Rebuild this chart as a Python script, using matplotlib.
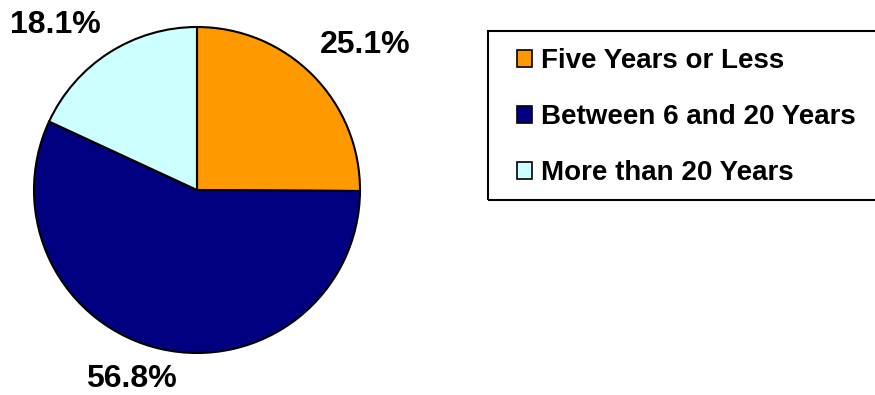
import matplotlib

matplotlib.use("Agg")

import matplotlib.pyplot as plt
from matplotlib.patches import Patch, Rectangle

CATEGORIES = ["Five Years or Less", "Between 6 and 20 Years", "More than 20 Years"]
SHARES = [25.1, 56.8, 18.1]
COLORS = ["#FF9900", "#000080", "#CCFFFF"]
# label offsets in units of pie radius (dx, dy)
LABEL_POS = [(1.03, 0.89), (-0.40, -1.16), (-0.87, 1.01)]

W, H = 875, 395
plt.rcParams["font.family"] = ["Liberation Sans", "DejaVu Sans"]
plt.rcParams["font.weight"] = "bold"

fig = plt.figure(figsize=(W / 100, H / 100), dpi=100)

cx, cy, r = 197, 190, 163
ax = fig.add_axes([(cx - r) / W, (H - cy - r) / H, 2 * r / W, 2 * r / H])
ax.pie(SHARES, colors=COLORS, startangle=90, counterclock=False, radius=1,
       wedgeprops=dict(edgecolor="black", linewidth=1.5))
ax.set_xlim(-1, 1)
ax.set_ylim(-1, 1)
ax.set_aspect("equal")
for p in ax.patches:
    p.set_clip_on(False)

for share, (dx, dy) in zip(SHARES, LABEL_POS):
    ax.text(dx, dy, f"{share:.1f}%", ha="center", va="center", fontsize=23,
            fontweight="bold", clip_on=False)

# legend frame
fig.patches.append(Rectangle((488 / W, 1 - 200 / H), 390 / W, 169 / H,
                             transform=fig.transFigure, facecolor="none",
                             edgecolor="black", linewidth=1.5))

handles = [Patch(facecolor=c, edgecolor="black", linewidth=1.2) for c in COLORS]
leg = fig.legend(handles, CATEGORIES, loc="upper left",
                 bbox_to_anchor=(517 / W, 1 - 48 / H), frameon=False,
                 prop=dict(weight="bold", size=20),
                 handlelength=0.55, handleheight=0.55, handletextpad=0.32,
                 labelspacing=1.08, borderpad=0, borderaxespad=0)

fig.savefig("out.png", dpi=100)
